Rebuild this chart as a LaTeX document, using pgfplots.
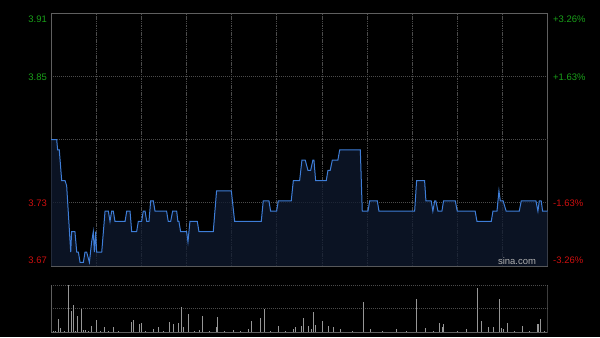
\documentclass[border=0pt]{standalone}
\usepackage{fontspec}
\setmainfont{Liberation Sans}
\usepackage{pgfplots}
\usepackage{pgfplotstable}
\pgfplotsset{compat=1.18}
\definecolor{lineblue}{RGB}{62,125,215}
\definecolor{fillnavy}{RGB}{16,26,48}
\definecolor{gridc}{RGB}{75,75,75}
\definecolor{borderc}{RGB}{95,95,95}
\definecolor{prevc}{RGB}{110,110,110}
\definecolor{upgreen}{RGB}{25,160,25}
\definecolor{downred}{RGB}{205,15,15}
\definecolor{volc}{RGB}{150,150,150}
\definecolor{wmc}{RGB}{175,175,175}

\pgfplotstableread{
m p
0 3.79
3.8 3.79
4.4 3.78
5.5 3.78
7.1 3.75
9.3 3.75
10.4 3.745
13.1 3.68
13.7 3.70
15.9 3.70
17.1 3.68
18.2 3.68
19.3 3.67
21.5 3.67
22.6 3.68
23.7 3.68
25.5 3.67
27 3.69
28.1 3.70
28.8 3.68
29.7 3.70
30.3 3.68
33.7 3.68
35.9 3.72
38.1 3.72
39.2 3.71
40.3 3.72
41.4 3.72
42.5 3.71
49.2 3.71
50.3 3.72
52.5 3.72
53.6 3.70
56.9 3.70
58 3.71
60.2 3.71
61.3 3.72
62.5 3.72
63.6 3.71
65.1 3.71
66.2 3.73
68 3.73
69.1 3.72
76.8 3.72
77.9 3.71
79.5 3.71
80.8 3.72
83.5 3.72
84.3 3.71
85 3.71
86.1 3.70
90.1 3.70
91 3.69
92.3 3.71
97.2 3.71
98.3 3.70
107.8 3.70
110 3.74
119.8 3.74
122 3.71
139.7 3.71
141 3.73
144.8 3.73
145.9 3.72
149.9 3.72
151 3.73
159.6 3.73
161 3.75
165.2 3.75
166.7 3.77
168.9 3.77
170.7 3.76
172.5 3.76
174 3.77
174.7 3.77
175.8 3.75
182.9 3.75
184 3.76
185.5 3.76
186.9 3.77
190.6 3.77
191.8 3.78
205.5 3.78
206.8 3.72
210.6 3.72
211.7 3.73
216.8 3.73
217.9 3.72
241.6 3.72
242.9 3.75
248.2 3.75
249.1 3.73
252.6 3.73
253.7 3.72
254.9 3.73
255.7 3.73
257.1 3.72
259.7 3.72
260.8 3.73
268.6 3.73
269.9 3.72
281.8 3.72
283 3.71
292.5 3.71
293.6 3.72
296.3 3.72
297.6 3.74
298.5 3.73
300.4 3.73
302.4 3.72
311.1 3.72
312.4 3.73
322.2 3.73
323.5 3.72
324.4 3.73
325.7 3.73
326.6 3.72
330 3.72
}\pricedata

\pgfplotstableread{
m v
1.5 2
3 3
4.8 27
6.6 8
9 2
11.8 100
13.5 45
14.8 57
16.2 3
17.9 34
19.9 49
21.5 4
23.2 4
25 2
27 13
30.4 26
33 2
35.4 11
38 2
41.8 11
45 2
48 1
53.6 22
54.7 26
58.7 17
59.8 19
63 2
68 6
71.5 11
75 2
78.4 21
81.2 17
84.6 20
86.8 54
88.3 10
91.5 38
95 2
98.5 4
100.8 34
105 2
109.6 11
110.7 32
115 2
121.1 4
126 2
131.1 7
133.3 24
139.3 30
141.5 50
146 2
151.2 13
156 2
161.4 6
162.7 11
166.5 13
167.6 29
170.9 13
173.2 6
174.2 43
176 15
180.5 23
184.2 13
187.5 10
192.4 6
200 2
207.4 64
212.4 6
220 2
229.2 6
236 2
242.9 70
249.1 8
254 2
258.4 20
260.2 10
261 16
270 2
276.1 6
283.2 93
286.1 24
290.9 11
293.8 11
298.2 71
299.4 8
300.4 7
303.4 20
308 2
313.3 13
318 2
323 17
324.1 18
325.3 27
328 3
}\voldata

\begin{document}
\begin{tikzpicture}[x=1bp,y=1bp]
\fill[black] (0,0) rectangle (600,337);
\begin{axis}[
  at={(51bp,71bp)}, anchor=south west, scale only axis,
  width=496.7bp, height=252.7bp,
  xmin=0, xmax=330, ymin=3.6664, ymax=3.9136,
  axis line style={draw=borderc, line width=0.8bp},
  xtick={30,60,...,300}, xticklabel={},
  ytick={3.7282,3.8518}, yticklabel={},
  major tick length=0pt, tick style={draw=none},
  xmajorgrids, ymajorgrids,
  x grid style={gridc, line width=0.8bp, dash pattern=on 1.5bp off 0.8bp},
  y grid style={gridc, line width=0.8bp, dash pattern=on 0.8bp off 1.2bp},
  extra y ticks={3.79}, extra y tick labels={},
  extra y tick style={grid style={prevc, line width=0.8bp, dash pattern=on 3bp off 1bp on 1bp off 1bp}},
]
\addplot[draw=none, fill=fillnavy, fill opacity=0.75] table[x=m,y=p] {\pricedata} \closedcycle;
\addplot[lineblue, line width=1bp, mark=none] table[x=m,y=p] {\pricedata};
\end{axis}

\begin{axis}[
  at={(51bp,5bp)}, anchor=south west, scale only axis,
  width=496.7bp, height=47bp,
  xmin=0, xmax=330, ymin=0, ymax=100,
  axis line style={draw=none},
  xtick=\empty, ytick={50,100}, yticklabel={},
  major tick length=0pt, tick style={draw=none},
  ymajorgrids,
  y grid style={gridc, line width=0.8bp, dash pattern=on 0.8bp off 1.2bp},
]
\addplot[ycomb, volc, line width=0.9bp, mark=none] table[x=m,y=v] {\voldata};
\draw[borderc, line width=0.8bp] (rel axis cs:0,1) -- (rel axis cs:0,0) -- (rel axis cs:1,0) -- (rel axis cs:1,1);
\end{axis}

\begin{scope}[every node/.style={font=\fontsize{9.5}{11}\selectfont, inner sep=0pt}]
\node[anchor=east, text=upgreen] at (47,318) {3.91};
\node[anchor=east, text=upgreen] at (47,260) {3.85};
\node[anchor=east, text=downred] at (47,134) {3.73};
\node[anchor=east, text=downred] at (47,77) {3.67};
\node[anchor=west, text=upgreen] at (553,318) {+3.26\%};
\node[anchor=west, text=upgreen] at (553,260) {+1.63\%};
\node[anchor=west, text=downred] at (553,134) {-1.63\%};
\node[anchor=west, text=downred] at (553,77) {-3.26\%};
\node[text=wmc] at (517,76) {sina.com};
\end{scope}
\pgfresetboundingbox
\path[use as bounding box] (0,0) rectangle (600,337);
\end{tikzpicture}
\end{document}
